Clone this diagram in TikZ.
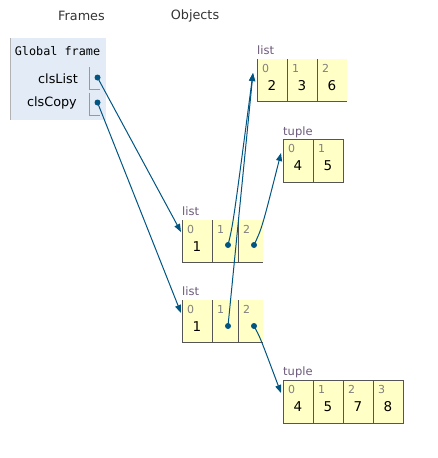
\documentclass[tikz,border=0pt]{standalone}
\usepackage{fontspec}
\setmainfont{DejaVu Sans}
\newfontfamily\monof{DejaVu Sans Mono}
\usetikzlibrary{arrows.meta}
\definecolor{arrowc}{HTML}{005583}
\definecolor{cellbg}{HTML}{FFFFC6}
\definecolor{framebg}{HTML}{E2EBF6}
\definecolor{bordc}{HTML}{555555}
\definecolor{idxc}{HTML}{808080}
\definecolor{typec}{HTML}{6A5878}
\definecolor{hdrc}{HTML}{333333}
\begin{document}
\begin{tikzpicture}[x=1pt,y=-1pt,
  hdr/.style={font=\fontsize{12.8}{15}\selectfont, text=hdrc, inner sep=0pt},
  typelbl/.style={font=\fontsize{11.5}{13}\selectfont, text=typec, anchor=base west, inner sep=0pt},
  idx/.style={font=\fontsize{11}{12}\selectfont, text=idxc, inner sep=0pt},
  val/.style={font=\fontsize{13.5}{15}\selectfont, text=black, inner sep=0pt},
  varname/.style={font=\fontsize{12.8}{15}\selectfont, text=black, anchor=east, inner sep=0pt},
  border/.style={draw=bordc, line width=1pt},
  ptr/.style={draw=arrowc, line width=1pt, -{Triangle[length=8pt,width=6pt]}},
  dotc/.style={circle, fill=arrowc, inner sep=0pt, minimum size=6pt}]
\useasboundingbox (0,0) rectangle (438,458);

% headers
\node[hdr] (hf) at (81.5,16) {Frames};
\node[hdr] (ho) at (195,16) {Objects};

% global frame
\fill[framebg] (10,38) rectangle (106,120);
\draw[draw=black!30, line width=1pt] (10,38) -- (10,120);
\node[inner sep=0pt, font=\monof\fontsize{11.8}{13}\selectfont] (gf) at (57.5,51.5) {Global frame};
\node[varname] (v1) at (78,78.5) {clsList};
\node[varname] (v2) at (77,103) {clsCopy};
\draw[draw=black!40, line width=1pt] (89,67) -- (89,89) -- (100,89);
\draw[draw=black!40, line width=1pt] (89,92.5) -- (89,115) -- (100,115);
\node[dotc] (d1) at (97.5,77.5) {};
\node[dotc] (d2) at (97.5,102.5) {};

% top list [2,3,6]
\node[typelbl] (tl) at (257,54) {list};
\fill[cellbg] (257,59) rectangle (347,101);
\draw[border] (257,59) -- (257,101) -- (347,101);
\draw[border] (287,59) -- (287,101);
\draw[border] (317,59) -- (317,101);
\foreach \x/\i/\v [count=\k] in {257/0/2,287/1/3,317/2/6}{
  \node[idx] (tli\k) at (\x+8.5,68) {\i};
  \node[val] (tlv\k) at (\x+15,85.5) {\v};
}
\coordinate (tltip) at (253,73);

% tuple (4,5)
\node[typelbl] (t1l) at (283,135) {tuple};
\fill[cellbg] (283,139) rectangle (343,182);
\draw[border] (283,139) rectangle (343,182);
\draw[border] (313,139) -- (313,182);
\foreach \x/\i/\v [count=\k] in {283/0/4,313/1/5}{
  \node[idx] (t1i\k) at (\x+8.5,148.5) {\i};
  \node[val] (t1v\k) at (\x+15,165.5) {\v};
}
\coordinate (t1tip) at (281,153);

% list A
\node[typelbl] (al) at (182,215.5) {list};
\fill[cellbg] (182,220) rectangle (263,262);
\draw[border] (182,220) -- (182,262) -- (263,262);
\draw[border] (212,220) -- (212,262);
\draw[border] (238,220) -- (238,262);
\node[idx] (ai1) at (190.5,229) {0};
\node[idx] (ai2) at (220.5,229) {1};
\node[idx] (ai3) at (246.5,229) {2};
\node[val] (av1) at (197,246.5) {1};
\node[dotc] (ad2) at (228,245) {};
\node[dotc] (ad3) at (254,245) {};
\coordinate (atip) at (181,232);

% list B
\node[typelbl] (bl) at (182,295.5) {list};
\fill[cellbg] (182,300) rectangle (263,342);
\draw[border] (182,300) -- (182,342) -- (263,342);
\draw[border] (212,300) -- (212,342);
\draw[border] (238,300) -- (238,342);
\node[idx] (bi1) at (190.5,309) {0};
\node[idx] (bi2) at (220.5,309) {1};
\node[idx] (bi3) at (246.5,309) {2};
\node[val] (bv1) at (197,326.5) {1};
\node[dotc] (bd2) at (228,326) {};
\node[dotc] (bd3) at (254,326) {};
\coordinate (btip) at (181,313);

% tuple (4,5,7,8)
\node[typelbl] (t2l) at (283,375.5) {tuple};
\fill[cellbg] (283,380) rectangle (403,423);
\draw[border] (283,380) rectangle (403,423);
\draw[border] (313,380) -- (313,423);
\draw[border] (343,380) -- (343,423);
\draw[border] (373,380) -- (373,423);
\foreach \x/\i/\v [count=\k] in {283/0/4,313/1/5,343/2/7,373/3/8}{
  \node[idx] (t2i\k) at (\x+8.5,389.5) {\i};
  \node[val] (t2v\k) at (\x+15,406.5) {\v};
}
\coordinate (t2tip) at (281,393);

% pointers
\draw[ptr] (d1.center) -- (atip);
\draw[ptr] (d2.center) -- (btip);
\draw[ptr] (ad2.center) .. controls (233,225) .. (tltip);
\draw[ptr] (bd2.center) -- (tltip);
\draw[ptr] (ad3.center) .. controls (262,228) .. (t1tip);
\draw[ptr] (bd3.center) .. controls (260,337) .. (t2tip);
\end{tikzpicture}
\end{document}
